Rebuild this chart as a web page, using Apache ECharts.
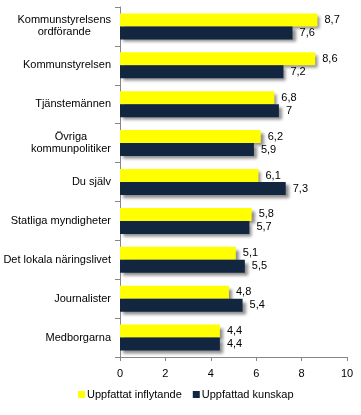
<!DOCTYPE html>
<html><head><meta charset="utf-8">
<script src="https://cdn.jsdelivr.net/npm/echarts@6/dist/echarts.min.js"></script>
<style>html,body{margin:0;padding:0;background:#fff}#c{width:361px;height:415px}</style>
</head><body><div id="c"></div>
<script>
const categories = ["Kommunstyrelsens\nordförande","Kommunstyrelsen","Tjänstemännen","Övriga\nkommunpolitiker","Du själv","Statliga myndigheter","Det lokala näringslivet","Journalister","Medborgarna"];
const inflytande = [8.7, 8.6, 6.8, 6.2, 6.1, 5.8, 5.1, 4.8, 4.4];
const kunskap = [7.6, 7.2, 7, 5.9, 7.3, 5.7, 5.5, 5.4, 4.4];
const xTicks = [0, 2, 4, 6, 8, 10];

const font = 'Liberation Sans, Arial, sans-serif';
const fmt = v => String(v).replace('.', ',');
const shadow = {shadowColor:'rgba(0,0,0,0.45)', shadowBlur:3, shadowOffsetX:3, shadowOffsetY:3};
const chart = echarts.init(document.getElementById('c'), null, {renderer:'canvas'});
chart.setOption({
  animation:false,
  textStyle:{fontFamily:font},
  grid:{left:120, right:14, top:7, bottom:58, containLabel:false},
  legend:{
    bottom:10, left:73, itemWidth:7, itemHeight:7, itemGap:11, icon:'rect',
    textStyle:{fontFamily:font, fontSize:11, color:'#000', padding:[0,0,0,-3]},
    data:['Uppfattat inflytande','Uppfattad kunskap']
  },
  xAxis:{
    type:'value', min:xTicks[0], max:xTicks[xTicks.length-1], interval:2,
    axisLine:{show:true, lineStyle:{color:'#868686'}},
    axisTick:{show:true, length:4, lineStyle:{color:'#868686'}},
    splitLine:{show:false},
    axisLabel:{fontFamily:font, fontSize:11, color:'#000', margin:11}
  },
  yAxis:{
    type:'category', inverse:true, data:categories,
    axisLine:{show:true, lineStyle:{color:'#868686'}},
    axisTick:{show:true, length:5, lineStyle:{color:'#868686'}},
    axisLabel:{fontFamily:font, fontSize:11, color:'#000', margin:9,
      formatter: v => v.split('\n').map(s => '{c|' + s + '}').join('\n'),
      rich:{c:{align:'center', fontFamily:font, fontSize:11, color:'#000', lineHeight:12}}
    }
  },
  series:[
    {name:'Uppfattat inflytande', type:'bar', data:inflytande, barWidth:13, barGap:'0%', barCategoryGap:'33%',
     itemStyle:Object.assign({color:'#FFFF00'}, shadow),
     label:{show:true, position:'right', distance:7, formatter:p=>fmt(p.value), fontFamily:font, fontSize:11, color:'#000'}},
    {name:'Uppfattad kunskap', type:'bar', data:kunskap, barWidth:13, barGap:'0%',
     itemStyle:Object.assign({color:'#12263F'}, shadow),
     label:{show:true, position:'right', distance:7, formatter:p=>fmt(p.value), fontFamily:font, fontSize:11, color:'#000'}}
  ]
});
</script></body></html>
